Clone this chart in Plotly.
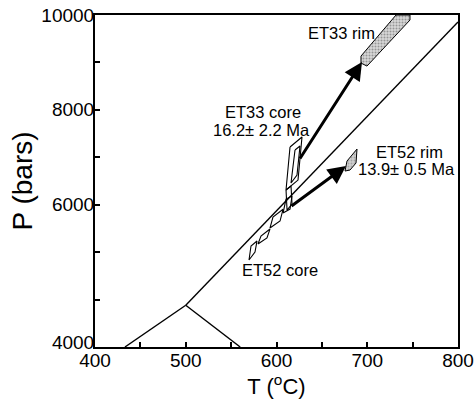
import plotly.graph_objects as go

# ---------------- data (T in degC, P in bars) ----------------
# Aluminosilicate phase boundaries
and_ky_T = [433, 500]
and_ky_P = [3000, 3880]
and_sil_T = [500, 560]
and_sil_P = [3880, 3000]
ky_sil_T = [500, 800]
ky_sil_P = [3880, 9850]

# ET33 core polygons
et33_core_A_T = [614.9, 628.1, 623.7, 610.5]
et33_core_A_P = [7216, 7427, 6520, 6310]
et33_core_B_T = [620.4, 625.9, 622.6, 616.0]
et33_core_B_P = [7153, 7237, 6626, 6457]
et33_core_C_T = [610.5, 616.0, 617.1, 611.6]
et33_core_C_P = [6310, 6394, 6014, 5888]

# ET52 core polygons
et52_core_1_T = [569.7, 571.9, 578.5, 576.3]
et52_core_1_P = [4834, 5129, 5234, 5003]
et52_core_2_T = [579.6, 582.9, 592.8, 589.5]
et52_core_2_P = [5171, 5340, 5487, 5298]
et52_core_3_T = [592.8, 596.1, 607.2, 603.9]
et52_core_3_P = [5508, 5740, 5904, 5656]
et52_core_4_T = [607.2, 610.5, 617.1, 614.9]
et52_core_4_P = [5825, 6120, 6183, 5909]

# Rim polygons
et33_rim_T = [693.1, 731.7, 747.1, 747.1, 699.7, 693.1]
et33_rim_P = [9134, 10000, 10000, 9894, 8923, 8987]
et52_rim_T = [675.5, 677.7, 688.7, 687.6, 681.0]
et52_rim_P = [6710, 6921, 7174, 6879, 6731]

# P-T path arrows: (tail T, tail P, tip T, tip P)
arrow_et33 = (624.8, 6942, 694.2, 9008)
arrow_et52 = (614.9, 5951, 676.6, 6815)

# Labels: (text, T, P)
labels = [
    ("ET33 rim", 671.1, 9619),
    ("ET33 core", 585.1, 7954),
    ("16.2\u00b1 2.2 Ma", 584.0, 7574),
    ("ET52 rim", 746.0, 7121),
    ("13.9\u00b1 0.5 Ma", 743.3, 6763),
    ("ET52 core", 603.9, 4623),
]

# Axis ticks
x_tickvals = [400, 450, 500, 550, 600, 650, 700, 750, 800]
x_ticktext = ["400", "", "500", "", "600", "", "700", "", "800"]
y_labelvals = [3090, 6000.5, 8000.5, 10000]
y_labeltext = ["4000", "6000", "8000", "10000"]
y_tickmarks = [4000, 5000, 6000, 7000, 8000, 9000]

# ---------------- figure ----------------
FONT = "Liberation Sans, Arial, sans-serif"
fig = go.Figure()

for T, P in [(and_ky_T, and_ky_P), (and_sil_T, and_sil_P), (ky_sil_T, ky_sil_P)]:
    fig.add_trace(go.Scatter(x=T, y=P, mode="lines",
                             line=dict(color="black", width=1.4),
                             hoverinfo="skip", showlegend=False))


def close(a):
    return list(a) + [a[0]]


core_polys = [
    (et33_core_A_T, et33_core_A_P), (et33_core_B_T, et33_core_B_P),
    (et33_core_C_T, et33_core_C_P),
    (et52_core_1_T, et52_core_1_P), (et52_core_2_T, et52_core_2_P),
    (et52_core_3_T, et52_core_3_P), (et52_core_4_T, et52_core_4_P),
]
for T, P in core_polys:
    fig.add_trace(go.Scatter(x=close(T), y=close(P), mode="lines",
                             line=dict(color="black", width=1.1),
                             hoverinfo="skip", showlegend=False))

fig.add_trace(go.Scatter(x=close(et33_rim_T), y=close(et33_rim_P), mode="lines",
                         fill="toself", fillcolor="#bdbdbd",
                         fillpattern=dict(shape=".", bgcolor="#d6d6d6", fgcolor="#555555",
                                          size=3, solidity=0.35),
                         line=dict(color="black", width=1),
                         hoverinfo="skip", showlegend=False))
fig.add_trace(go.Scatter(x=close(et52_rim_T), y=close(et52_rim_P), mode="lines",
                         fill="toself", fillcolor="#bdbdbd",
                         fillpattern=dict(shape=".", bgcolor="#d0d0d0", fgcolor="#777777",
                                          size=3, solidity=0.3),
                         line=dict(color="black", width=1),
                         hoverinfo="skip", showlegend=False))

for tT, tP, hT, hP in [arrow_et33, arrow_et52]:
    fig.add_annotation(x=hT, y=hP, ax=tT, ay=tP, xref="x", yref="y",
                       axref="x", ayref="y", text="", showarrow=True,
                       arrowhead=2, arrowsize=1.2, arrowwidth=3,
                       arrowcolor="black", standoff=0, startstandoff=0)

for txt, T, P in labels:
    fig.add_annotation(x=T, y=P, xref="x", yref="y", text=txt, showarrow=False,
                       font=dict(family=FONT, size=16.5, color="black"),
                       xanchor="center", yanchor="middle")

axis_common = dict(showline=True, linecolor="black", linewidth=2, mirror=True,
                   showgrid=False, zeroline=False,
                   tickfont=dict(family=FONT, size=19, color="black"))

fig.update_xaxes(range=[400, 800], tickmode="array", tickvals=x_tickvals,
                 ticktext=x_ticktext, ticklabelstandoff=-5,
                 ticks="inside", ticklen=5, tickwidth=1.5, tickcolor="black",
                 title=dict(text="T (<sup>o</sup>C)", standoff=8,
                            font=dict(family=FONT, size=22, color="black")),
                 **axis_common)
fig.update_yaxes(range=[3000, 10000], tickmode="array", tickvals=y_labelvals,
                 ticktext=y_labeltext, ticklabelstandoff=-5, ticks="",
                 minor=dict(tickmode="array", tickvals=y_tickmarks, ticks="inside",
                            ticklen=5, tickwidth=1.5, tickcolor="black", showgrid=False),
                 title=dict(text="P (bars)", standoff=1,
                            font=dict(family=FONT, size=28, color="black")),
                 **axis_common)

fig.update_layout(width=475, height=401,
                  margin=dict(l=95, r=17, t=15, b=54, autoexpand=False),
                  paper_bgcolor="white", plot_bgcolor="white",
                  showlegend=False)

fig.write_html("out.html", config={"displayModeBar": False},
               post_script="document.body.style.margin='0px';")
